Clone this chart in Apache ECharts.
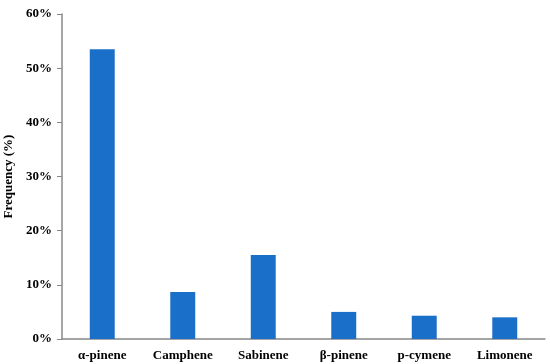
<!DOCTYPE html>
<html><head><meta charset="utf-8">
<script src="https://cdn.jsdelivr.net/npm/echarts@6/dist/echarts.min.js"></script>
<style>html,body{margin:0;padding:0;background:#fff}#c{width:550px;height:364px}</style>
</head><body><div id="c"></div>
<script>
const categories = ['α-pinene','Camphene','Sabinene','β-pinene','p-cymene','Limonene'];
const frequency = [53.5, 8.7, 15.5, 5.0, 4.3, 4.0];
const yTicks = [0,10,20,30,40,50,60];
const font = '"Liberation Serif","Times New Roman",serif';
const chart = echarts.init(document.getElementById('c'));
chart.setOption({
  animation:false,
  grid:{left:62,right:5,top:14,bottom:25,containLabel:false,outerBoundsMode:'none'},
  xAxis:{type:'category',data:categories,
    axisLine:{lineStyle:{color:'#888',width:1.5}},
    axisTick:{show:false},
    axisLabel:{color:'#000',fontFamily:font,fontWeight:'bold',fontSize:13,margin:10}},
  yAxis:{type:'value',min:0,max:60,interval:10,
    name:'Frequency (%)',nameLocation:'middle',nameGap:44,
    nameTextStyle:{color:'#000',fontFamily:font,fontWeight:'bold',fontSize:13},
    axisLine:{show:true,lineStyle:{color:'#888',width:1.5}},
    axisTick:{show:true,length:5,lineStyle:{color:'#888'}},
    splitLine:{show:false},
    axisLabel:{color:'#000',fontFamily:font,fontWeight:'bold',fontSize:13,margin:10,
      formatter:v=>yTicks.includes(v)?v+'%':''}},
  series:[{type:'bar',data:frequency,barWidth:'31%',itemStyle:{color:'#1a6fc9'}}]
});
</script></body></html>
